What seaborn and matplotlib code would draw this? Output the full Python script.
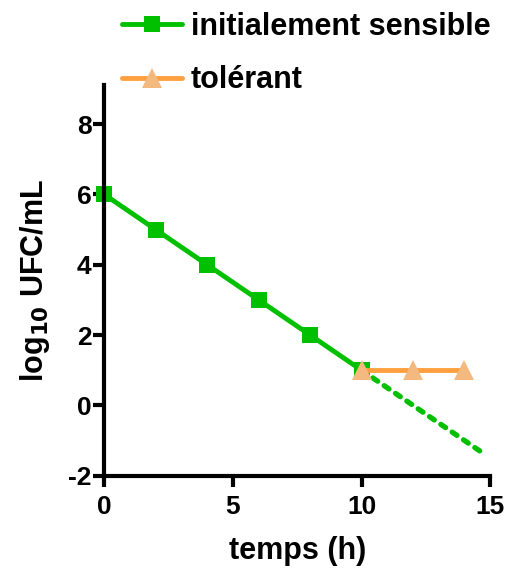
import matplotlib
matplotlib.use("Agg")
import matplotlib.pyplot as plt
import seaborn as sns

# ========== Data ========== #
temps_sensible = [0, 2, 4, 6, 8, 10]
ufc_sensible = [6, 5, 4, 3, 2, 1]

temps_tolerant = [10, 12, 14]
ufc_tolerant = [1, 1, 1]

# extrapolation of the sensitive population
temps_extrap = [10, 14.8]
ufc_extrap = [1, -1.4]

x_ticks = [0, 5, 10, 15]
y_ticks = [-2, 0, 2, 4, 6, 8]

# ========== Style ========== #
sns.set_style("ticks")
plt.rcParams["font.family"] = ["Liberation Sans", "DejaVu Sans"]
plt.rcParams["font.weight"] = "bold"
plt.rcParams["axes.unicode_minus"] = False
plt.rcParams["mathtext.default"] = "bf"
for key in ["text.color", "axes.labelcolor", "xtick.color", "ytick.color", "axes.edgecolor"]:
    plt.rcParams[key] = "black"

green = "#00C000"
orange_line = "#FFA040"
orange_marker = "#F4B97F"

fig = plt.figure(figsize=(5.08, 5.69), dpi=100)
ax = fig.add_axes([0.205, 0.164, 0.76, 0.686])

sns.lineplot(x=temps_sensible, y=ufc_sensible, ax=ax, color=green, linewidth=3.5,
             marker="s", markersize=11, markeredgewidth=0,
             label="initialement sensible")
sns.lineplot(x=temps_extrap, y=ufc_extrap, ax=ax, color=green, linewidth=3.8,
             linestyle=(0, (1.1, 1.5)), dash_capstyle="round")
sns.lineplot(x=temps_tolerant, y=ufc_tolerant, ax=ax, color=orange_line, linewidth=3.5,
             marker="^", markersize=15, markerfacecolor=orange_marker,
             markeredgewidth=0, label="tolérant")

# ========== Axes ========== #
ax.set_xlim(0, 15)
ax.set_ylim(-2, 9.1)
ax.set_xticks(x_ticks)
ax.set_yticks(y_ticks)
ax.spines["top"].set_visible(False)
ax.spines["right"].set_visible(False)
ax.spines["bottom"].set_bounds(0, 15)
ax.spines["left"].set_bounds(-2, 9.1)
for sp in ["left", "bottom"]:
    ax.spines[sp].set_linewidth(3)
ax.tick_params(axis="both", direction="out", length=8, width=3, labelsize=19)
ax.tick_params(axis="x", pad=6)
ax.tick_params(axis="y", pad=1)
for lbl in ax.get_xticklabels() + ax.get_yticklabels():
    lbl.set_fontweight("bold")
for ln in ax.get_lines():
    ln.set_clip_on(False)

ax.set_xlabel("temps (h)", fontsize=22, fontweight="bold", labelpad=12)
ax.set_ylabel("log$_{10}$ UFC/mL", fontsize=22, fontweight="bold", labelpad=12)

# ========== Legend ========== #
ax.legend(loc="upper left", bbox_to_anchor=(0.205, 1.012), bbox_transform=fig.transFigure,
          frameon=False, handlelength=1.95, handletextpad=0.28,
          labelspacing=0.78, borderpad=0.1, prop={"weight": "bold", "size": 22})

fig.savefig("out.png", dpi=100)
